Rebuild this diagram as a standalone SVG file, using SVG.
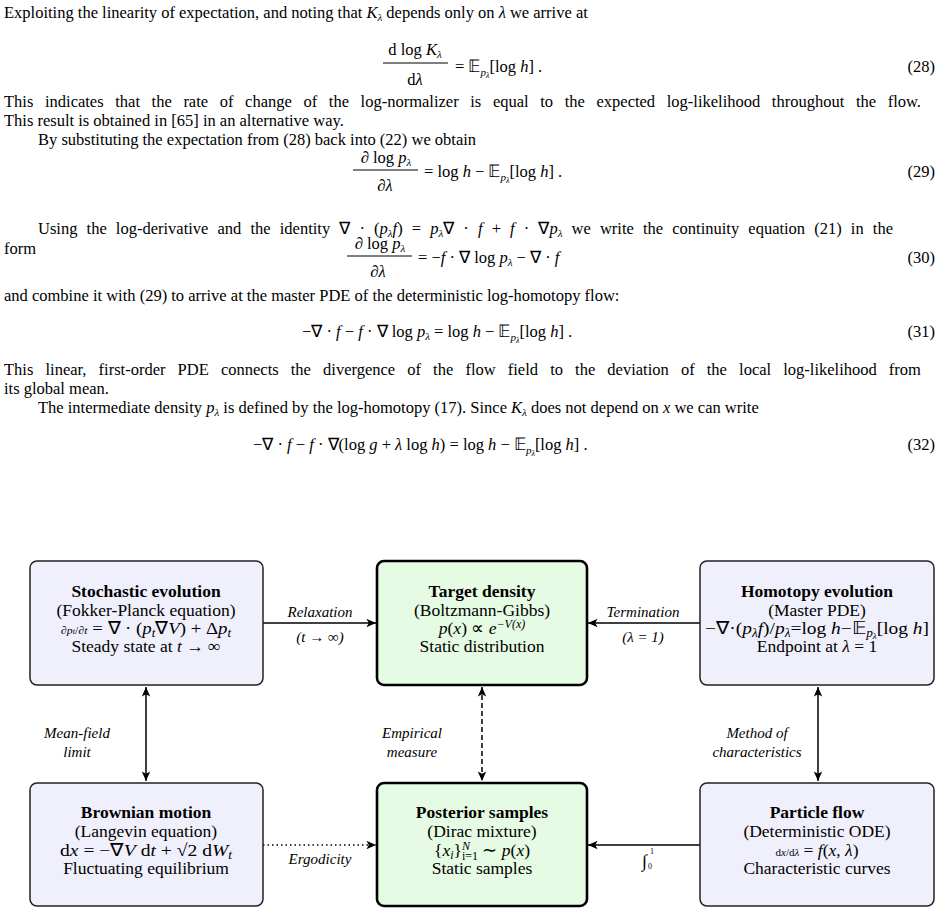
<svg xmlns="http://www.w3.org/2000/svg" width="945" height="915" viewBox="0 0 945 915">
<style>
text{font-family:"Liberation Serif","Times New Roman",serif;font-size:16.5px;fill:#000}
.eq{font-size:16.5px}
.i{font-style:italic}
.s{font-size:11px}
.c{text-anchor:middle}
.r{text-anchor:end}
.b{font-weight:bold}
.n text{font-size:17.5px;text-anchor:middle}
.n .s{font-size:12px}
.lab{font-size:15px;font-style:italic;text-anchor:middle}
.blue{fill:#f0f0fc;stroke:#222;stroke-width:1.5}
.green{fill:#e6fbe3;stroke:#000;stroke-width:2.6}
.ln{stroke:#000;stroke-width:1.5;fill:none}
</style>
<defs>
<marker id="a" viewBox="0 0 10 10" refX="9" refY="5" markerWidth="8" markerHeight="8" orient="auto-start-reverse"><path d="M1,1.5 L9,5 L1,8.5 L3,5 Z" fill="#000"/></marker>
</defs>
<g id="text">
<text x="4" y="18">Exploiting the linearity of expectation, and noting that <tspan class="i">K</tspan><tspan class="i s" dy="3">λ</tspan><tspan dy="-3"> depends only on </tspan><tspan class="i">λ</tspan> we arrive at</text>
<text x="415" y="55" class="c eq">d log <tspan class="i">K</tspan><tspan class="i s" dy="3">λ</tspan></text>
<line x1="383" y1="63" x2="448" y2="63" stroke="#000" stroke-width="1"/>
<text x="415" y="85" class="c eq">d<tspan class="i">λ</tspan></text>
<text x="455" y="72" class="eq">= 𝔼<tspan class="i s" dy="4">p</tspan><tspan class="i" style="font-size:8px" dy="2">λ</tspan><tspan dy="-6">[log </tspan><tspan class="i">h</tspan>] .</text>
<text x="935" y="72" class="r">(28)</text>
<text x="4" y="107" word-spacing="7.5">This indicates that the rate of change of the log-normalizer is equal to the expected log-likelihood throughout the flow.</text>
<text x="4" y="126">This result is obtained in [65] in an alternative way.</text>
<text x="38" y="145">By substituting the expectation from (28) back into (22) we obtain</text>
<text x="386" y="163" class="c eq">∂ log <tspan class="i">p</tspan><tspan class="i s" dy="3">λ</tspan></text>
<line x1="353" y1="170" x2="418" y2="170" stroke="#000" stroke-width="1"/>
<text x="385" y="191" class="c eq">∂<tspan class="i">λ</tspan></text>
<text x="424" y="177" class="eq">= log <tspan class="i">h</tspan> − 𝔼<tspan class="i s" dy="4">p</tspan><tspan class="i" style="font-size:8px" dy="2">λ</tspan><tspan dy="-6">[log </tspan><tspan class="i">h</tspan>] .</text>
<text x="935" y="177" class="r">(29)</text>
<text x="38" y="234" word-spacing="5">Using the log-derivative and the identity ∇ · (<tspan class="i">p</tspan><tspan class="i s" dy="3">λ</tspan><tspan class="i" dy="-3">f</tspan>) = <tspan class="i">p</tspan><tspan class="i s" dy="3">λ</tspan><tspan dy="-3">∇ · </tspan><tspan class="i">f</tspan> + <tspan class="i">f</tspan> · ∇<tspan class="i">p</tspan><tspan class="i s" dy="3">λ</tspan><tspan dy="-3"> we write the continuity equation (21) in the</tspan></text>
<text x="4" y="254">form</text>
<text x="380" y="249" class="c eq">∂ log <tspan class="i">p</tspan><tspan class="i s" dy="3">λ</tspan></text>
<line x1="347" y1="256" x2="412" y2="256" stroke="#000" stroke-width="1"/>
<text x="378" y="277" class="c eq">∂<tspan class="i">λ</tspan></text>
<text x="418" y="263" class="eq">= −<tspan class="i">f</tspan> · ∇ log <tspan class="i">p</tspan><tspan class="i s" dy="3">λ</tspan><tspan dy="-3"> − ∇ · </tspan><tspan class="i">f</tspan></text>
<text x="935" y="263" class="r">(30)</text>
<text x="4" y="301">and combine it with (29) to arrive at the master PDE of the deterministic log-homotopy flow:</text>
<text x="302" y="337" class="eq">−∇ · <tspan class="i">f</tspan> − <tspan class="i">f</tspan> · ∇ log <tspan class="i">p</tspan><tspan class="i s" dy="3">λ</tspan><tspan dy="-3"> = log </tspan><tspan class="i">h</tspan> − 𝔼<tspan class="i s" dy="4">p</tspan><tspan class="i" style="font-size:8px" dy="2">λ</tspan><tspan dy="-6">[log </tspan><tspan class="i">h</tspan>] .</text>
<text x="935" y="337" class="r">(31)</text>
<text x="4" y="375" word-spacing="8">This linear, first-order PDE connects the divergence of the flow field to the deviation of the local log-likelihood from</text>
<text x="4" y="394">its global mean.</text>
<text x="38" y="413">The intermediate density <tspan class="i">p</tspan><tspan class="i s" dy="3">λ</tspan><tspan dy="-3"> is defined by the log-homotopy (17). Since </tspan><tspan class="i">K</tspan><tspan class="i s" dy="3">λ</tspan><tspan dy="-3"> does not depend on </tspan><tspan class="i">x</tspan> we can write</text>
<text x="253" y="450" class="eq">−∇ · <tspan class="i">f</tspan> − <tspan class="i">f</tspan> · ∇(log <tspan class="i">g</tspan> + <tspan class="i">λ</tspan> log <tspan class="i">h</tspan>) = log <tspan class="i">h</tspan> − 𝔼<tspan class="i s" dy="4">p</tspan><tspan class="i" style="font-size:8px" dy="2">λ</tspan><tspan dy="-6">[log </tspan><tspan class="i">h</tspan>] .</text>
<text x="935" y="450" class="r">(32)</text>
</g>
<g id="connectors">
<line class="ln" x1="263" y1="623" x2="376" y2="623" marker-end="url(#a)"/>
<line class="ln" x1="700" y1="623" x2="588" y2="623" marker-end="url(#a)"/>
<line class="ln" x1="146" y1="687" x2="146" y2="781" marker-start="url(#a)" marker-end="url(#a)"/>
<line class="ln" x1="482" y1="687" x2="482" y2="781" stroke-dasharray="5,3" marker-start="url(#a)" marker-end="url(#a)"/>
<line class="ln" x1="818" y1="687" x2="818" y2="781" marker-start="url(#a)" marker-end="url(#a)"/>
<line class="ln" x1="263" y1="845" x2="376" y2="845" stroke-dasharray="1.5,3" marker-end="url(#a)"/>
<line class="ln" x1="700" y1="845" x2="588" y2="845" marker-end="url(#a)"/>
<text class="lab" x="320" y="617">Relaxation</text>
<text class="lab" x="320" y="642">(t → ∞)</text>
<text class="lab" x="643" y="617">Termination</text>
<text class="lab" x="643" y="642">(λ = 1)</text>
<text class="lab" x="77" y="738">Mean-field</text>
<text class="lab" x="77" y="757">limit</text>
<text class="lab" x="412" y="738">Empirical</text>
<text class="lab" x="412" y="757">measure</text>
<text class="lab" x="757" y="738">Method of</text>
<text class="lab" x="757" y="757">characteristics</text>
<text class="lab" x="320" y="864">Ergodicity</text>
<text x="642" y="867" style="font-size:18px">∫</text>
<text x="650" y="854" style="font-size:8px">1</text>
<text x="648" y="869" style="font-size:8px">0</text>
</g>
<g id="stochastic" class="n">
<rect class="blue" x="30" y="561" width="233" height="124" rx="7"/>
<text x="146" y="597" class="b">Stochastic evolution</text>
<text x="146" y="616">(Fokker-Planck equation)</text>
<text x="146" y="634" textLength="170" lengthAdjust="spacingAndGlyphs"><tspan class="i" style="font-size:11px">∂p</tspan><tspan class="i" style="font-size:8px">t</tspan><tspan style="font-size:11px">/∂</tspan><tspan class="i" style="font-size:11px">t</tspan> = ∇ · (<tspan class="i">p</tspan><tspan class="i s" dy="3">t</tspan><tspan dy="-3">∇</tspan><tspan class="i">V</tspan>) + Δ<tspan class="i">p</tspan><tspan class="i s" dy="3">t</tspan></text>
<text x="146" y="652">Steady state at <tspan class="i">t</tspan> → ∞</text>
</g>
<g id="target" class="n">
<rect class="green" x="377" y="561" width="210" height="124" rx="7"/>
<text x="482" y="597" class="b">Target density</text>
<text x="482" y="616">(Boltzmann-Gibbs)</text>
<text x="482" y="634"><tspan class="i">p</tspan>(<tspan class="i">x</tspan>)  ∝  <tspan class="i">e</tspan><tspan class="i s" dy="-6">−V(x)</tspan></text>
<text x="482" y="652">Static distribution</text>
</g>
<g id="homotopy" class="n">
<rect class="blue" x="700" y="561" width="234" height="124" rx="7"/>
<text x="817" y="597" class="b">Homotopy evolution</text>
<text x="817" y="616">(Master PDE)</text>
<text x="817" y="634" textLength="224" lengthAdjust="spacingAndGlyphs">−∇·(<tspan class="i">p</tspan><tspan class="i s" dy="3">λ</tspan><tspan class="i" dy="-3">f</tspan>)/<tspan class="i">p</tspan><tspan class="i s" dy="3">λ</tspan><tspan dy="-3">=log</tspan> <tspan class="i">h</tspan>−𝔼<tspan class="i s" dy="3">p</tspan><tspan class="i" style="font-size:8px" dy="2">λ</tspan><tspan dy="-5">[log</tspan> <tspan class="i">h</tspan>]</text>
<text x="817" y="652">Endpoint at <tspan class="i">λ</tspan>  =  1</text>
</g>
<g id="brownian" class="n">
<rect class="blue" x="30" y="783" width="233" height="123" rx="7"/>
<text x="146" y="818" class="b">Brownian motion</text>
<text x="146" y="837">(Langevin equation)</text>
<text x="146" y="856" textLength="172" lengthAdjust="spacingAndGlyphs">d<tspan class="i">x</tspan>  =  −∇<tspan class="i">V</tspan> d<tspan class="i">t</tspan> +  √2 d<tspan class="i">W</tspan><tspan class="i s" dy="3">t</tspan></text>
<text x="146" y="874">Fluctuating equilibrium</text>
</g>
<g id="posterior" class="n">
<rect class="green" x="377" y="783" width="210" height="123" rx="7"/>
<text x="482" y="818" class="b">Posterior samples</text>
<text x="482" y="837">(Dirac mixture)</text>
<text x="482" y="856">{<tspan class="i">x</tspan><tspan class="i s" dy="3">i</tspan><tspan dy="-3">}</tspan><tspan class="i s" dy="-6">N</tspan><tspan class="s" dx="-8" dy="10">i=1</tspan><tspan dy="-4">  ∼  </tspan><tspan class="i">p</tspan>(<tspan class="i">x</tspan>)</text>
<text x="482" y="874">Static samples</text>
</g>
<g id="particle" class="n">
<rect class="blue" x="700" y="783" width="234" height="123" rx="7"/>
<text x="817" y="818" class="b">Particle flow</text>
<text x="817" y="837">(Deterministic ODE)</text>
<text x="817" y="856"><tspan style="font-size:11px">d</tspan><tspan class="i" style="font-size:11px">x</tspan><tspan style="font-size:11px">/d</tspan><tspan class="i" style="font-size:11px">λ</tspan>   =   <tspan class="i">f</tspan>(<tspan class="i">x</tspan>, <tspan class="i">λ</tspan>)</text>
<text x="817" y="874">Characteristic curves</text>
</g>
</svg>
